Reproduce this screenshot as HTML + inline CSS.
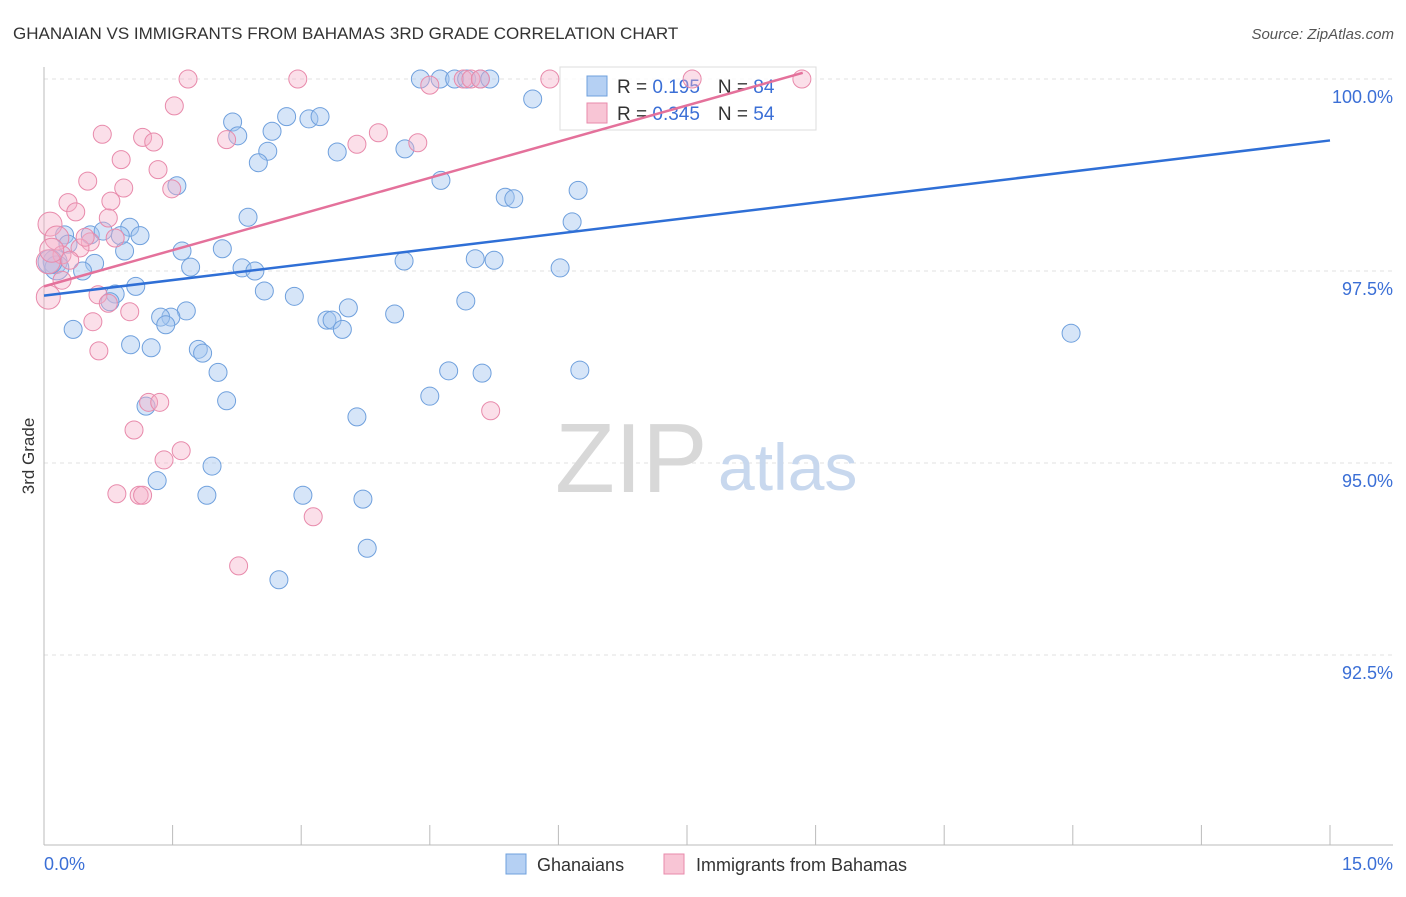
<!DOCTYPE html>
<html><head><meta charset="utf-8"><style>
body{margin:0;background:#fff;font-family:"Liberation Sans",sans-serif;}
svg text{font-family:"Liberation Sans",sans-serif;}
</style></head><body>
<svg id="chart" width="1406" height="892">
<text x="13" y="39" font-size="17" fill="#333">GHANAIAN VS IMMIGRANTS FROM BAHAMAS 3RD GRADE CORRELATION CHART</text>
<text x="1394" y="39" font-size="15" fill="#555" text-anchor="end" font-style="italic">Source: ZipAtlas.com</text>
<text x="34" y="456" font-size="17" fill="#333" text-anchor="middle" transform="rotate(-90 34 456)">3rd Grade</text>
<g id="grid"></g>
<g id="yticks"></g>
<g id="xticks"></g>
<text x="555" y="492" font-size="98" fill="#d8d8d8" font-family="Liberation Serif">ZIP</text>
<text x="718" y="490" font-size="66" fill="#c8d8ee">atlas</text>
<g>
<rect x="560" y="67" width="256" height="63" fill="rgba(255,255,255,0.75)" stroke="#ddd"/>
<rect x="587" y="76" width="20" height="20" fill="#b5d0f3" stroke="#6fa0dd"/>
<text x="617" y="93" font-size="19" fill="#333">R = <tspan fill="#3b6fd6">0.195</tspan><tspan dx="18">N = </tspan><tspan fill="#3b6fd6">84</tspan></text>
<rect x="587" y="103" width="20" height="20" fill="#f8c5d5" stroke="#e88aab"/>
<text x="617" y="120" font-size="19" fill="#333">R = <tspan fill="#3b6fd6">0.345</tspan><tspan dx="18">N = </tspan><tspan fill="#3b6fd6">54</tspan></text>
</g>
<g id="pts"></g>
<g id="lines"></g>
<g>
<rect x="506" y="854" width="20" height="20" fill="#b5d0f3" stroke="#6fa0dd"/>
<text x="537" y="871" font-size="18" fill="#333">Ghanaians</text>
<rect x="664" y="854" width="20" height="20" fill="#f8c5d5" stroke="#e88aab"/>
<text x="696" y="871" font-size="18" fill="#333">Immigrants from Bahamas</text>
</g>
</svg>
<script>
const blueX=[4.39,4.62,4.79,4.93,5.09,5.20,5.70,2.20,2.83,3.09,3.22,2.26,2.66,2.61,2.50,3.42,4.21,1.55,4.63,5.38,5.48,6.23,2.38,6.16,1.00,0.24,0.54,0.89,1.12,0.69,0.94,0.28,1.61,2.08,0.59,0.13,0.45,1.71,2.31,2.46,4.20,5.03,5.25,6.02,1.07,0.83,0.77,2.57,2.92,4.92,1.66,3.55,1.48,1.36,1.42,3.30,3.36,3.48,4.09,0.34,1.01,1.25,1.80,1.85,2.03,4.72,5.11,6.25,11.98,2.13,1.19,3.65,4.50,1.96,1.32,1.90,3.02,3.72,3.77,2.74,0.15,0.07];
const blueY=[100,100,100,100,100,100,99.74,99.44,99.51,99.48,99.51,99.26,99.32,99.06,98.91,99.05,99.09,98.61,98.68,98.46,98.44,98.55,98.20,98.14,98.07,97.97,97.97,97.96,97.96,98.02,97.76,97.85,97.76,97.79,97.60,97.62,97.50,97.55,97.54,97.50,97.63,97.66,97.64,97.54,97.30,97.20,97.10,97.24,97.17,97.11,96.98,97.02,96.90,96.90,96.80,96.86,96.86,96.74,96.94,96.74,96.54,96.50,96.48,96.43,96.18,96.20,96.17,96.21,96.69,95.81,95.74,95.60,95.87,94.96,94.77,94.58,94.58,94.53,93.89,93.48,97.54,97.62];
const pinkX=[1.68,2.96,4.89,4.98,5.09,5.90,4.50,7.56,1.52,8.84,0.68,1.15,1.28,2.13,3.90,3.65,4.36,0.90,1.33,0.51,0.93,1.49,0.28,0.78,0.37,0.75,0.07,0.15,0.21,0.83,0.54,0.42,0.05,0.21,0.63,0.05,0.75,1.00,0.57,0.64,1.22,1.35,1.05,1.60,1.40,0.85,1.11,1.15,3.14,2.27,5.21,0.09,0.30,0.48];
const pinkY=[100,100,100,100,100,100,99.92,100,99.65,100,99.28,99.24,99.18,99.21,99.30,99.15,99.17,98.95,98.82,98.67,98.58,98.57,98.39,98.41,98.27,98.19,98.11,97.93,97.71,97.93,97.88,97.80,97.62,97.38,97.19,97.16,97.08,96.97,96.84,96.46,95.79,95.79,95.43,95.16,95.04,94.60,94.58,94.58,94.30,93.66,95.68,97.77,97.64,97.94];
const blueTrend=[97.18,99.20];
const pinkTrend=[97.30,100.08];
const pinkTrendEnd=8.85;
const yTicks=[100,97.5,95,92.5];
const yTickLabels=["100.0%","97.5%","95.0%","92.5%"];
const xTicks=[0,1.5,3,4.5,6,7.5,9,10.5,12,13.5,15];
const NS="http://www.w3.org/2000/svg";
const sx=v=>44+v/15*1286;
const sy=v=>79+(100-v)*76.8;
function mk(tag,attrs,parent){const e=document.createElementNS(NS,tag);for(const k in attrs)e.setAttribute(k,attrs[k]);parent.appendChild(e);return e;}
const grid=document.getElementById('grid'),yt=document.getElementById('yticks'),xt=document.getElementById('xticks');
yTicks.forEach((t,i)=>{
 const l=mk('line',{x1:44,x2:1393,y1:sy(t),y2:sy(t),stroke:'#e2e2e2','stroke-dasharray':'4,4'},grid);
 
 
 const tx=mk('text',{x:1393,y:sy(t)+24,'font-size':18,fill:'#3b6fd6','text-anchor':'end'},yt);
 tx.textContent=yTickLabels[i];
 
 
});
const ax=mk('line',{x1:44,x2:44,y1:67,y2:845,stroke:'#bbb'},xt);


const bx=mk('line',{x1:44,x2:1393,y1:845,y2:845,stroke:'#bbb'},xt);


xTicks.forEach(t=>{
 const l=mk('line',{x1:sx(t),x2:sx(t),y1:825,y2:845,stroke:'#bbb'},xt);
 
 
});
const x0=mk('text',{x:44,y:870,'font-size':18,fill:'#3b6fd6'},xt);x0.textContent='0.0%';


const x1=mk('text',{x:1393,y:870,'font-size':18,fill:'#3b6fd6','text-anchor':'end'},xt);x1.textContent='15.0%';


const pts=document.getElementById('pts');
function draw(X,Y,fill,stroke,name){
 X.forEach((x,i)=>{
  const r=x<0.2?12:9;
  const c=mk('circle',{cx:sx(x),cy:sy(Y[i]),r:r,fill:fill,stroke:stroke,'stroke-width':1},pts);
  
  
 });
}
draw(blueX,blueY,'rgba(165,198,240,0.45)','#6fa0dd','point-ghanaians');
draw(pinkX,pinkY,'rgba(246,175,200,0.4)','#e88aab','point-bahamas');
const lines=document.getElementById('lines');
const bl=mk('line',{x1:sx(0),y1:sy(blueTrend[0]),x2:sx(15),y2:sy(blueTrend[1]),stroke:'#2f6fd6','stroke-width':2.5},lines);


const pl=mk('line',{x1:sx(0),y1:sy(pinkTrend[0]),x2:sx(pinkTrendEnd),y2:sy(pinkTrend[1]),stroke:'#e4719b','stroke-width':2.5},lines);


</script>
</body></html>
